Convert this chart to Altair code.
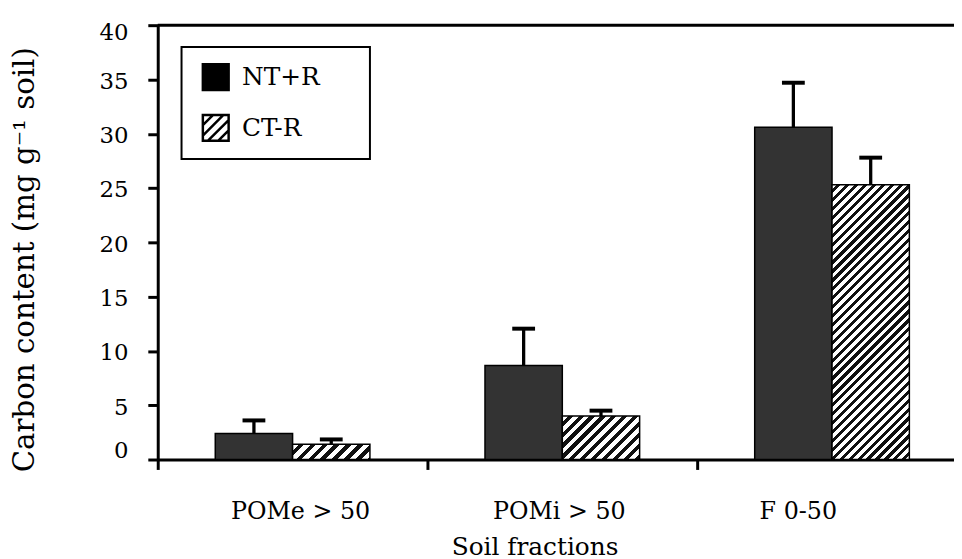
import altair as alt
import pandas as pd

# ---- data ----
categories = ["POMe > 50", "POMi > 50", "F 0-50"]
series = ["NT+R", "CT-R"]
nt_values = [2.4, 8.65, 30.6]
nt_errors = [1.2, 3.4, 4.1]
ct_values = [1.4, 4.0, 25.3]
ct_errors = [0.45, 0.5, 2.5]
y_ticks = [0, 5, 10, 15, 20, 25, 30, 35, 40]
hatch_periods = [12, 11, 9]   # stripe spacing of the hatched bars

rows = []
for i, c in enumerate(categories):
    rows.append(dict(cat=c, series="NT+R", value=nt_values[i], upper=nt_values[i] + nt_errors[i]))
    rows.append(dict(cat=c, series="CT-R", value=ct_values[i], upper=ct_values[i] + ct_errors[i]))
df = pd.DataFrame(rows)
top_df = pd.DataFrame({"top": [40]})
frame_df = pd.DataFrame({"frame": [1]})

# ---- layout / style ----
PLOT_W = 803
PLOT_H = 438
X_RANGE = 816
PO = 0.744
BAR_W = X_RANGE / len(categories) / (2 + 2 * PO)
PX = PLOT_H / 40.0
FONT = "DejaVu Serif"
INK = "#000000"
NT_FILL = "#333333"


def hatch(value, period, black=0.47):
    w = BAR_W
    h = value * PX
    L = w + h
    k = (w + h) / (w * w + h * h)
    stops = []
    i = 0
    while i * period < L:
        o0 = i * period / L
        o1 = min((i + 1 - black) * period / L, 1.0)
        o2 = min((i + 1) * period / L, 1.0)
        stops += [
            {"offset": o0, "color": "white"},
            {"offset": o1, "color": "white"},
            {"offset": o1, "color": "#111111"},
            {"offset": o2, "color": "#111111"},
        ]
        i += 1
    return {"gradient": "linear", "x1": 0, "y1": 0, "x2": k * w, "y2": k * h, "stops": stops}


x_axis = alt.Axis(
    title="Soil fractions", labelAngle=0, bandPosition=0, grid=False,
    domainColor="black", domainWidth=3, tickColor="black", tickWidth=3, tickSize=10,
    labelFont=FONT, labelFontSize=24, labelColor=INK, labelPadding=30, labelBaseline="top",
    labelOffset={"condition": [
        {"test": "datum.value === 'POMe > 50'", "value": 8},
        {"test": "datum.value === 'POMi > 50'", "value": -3}], "value": -34},
    titleFont=FONT, titleFontSize=25, titleFontWeight="normal", titleColor=INK,
    titleX=380, titleY=76, titleBaseline="top", titleAlign="center",
)
y_axis = alt.Axis(
    title="Carbon content (mg g\u207b\u00b9 soil)", values=y_ticks, grid=False,
    domainColor="black", domainWidth=3, tickColor="black", tickWidth=3, tickSize=10,
    labelFont=FONT, labelFontSize=23, labelColor=INK, labelPadding=20,
    labelOffset={"condition": [
        {"test": "datum.value === 0", "value": -9.5},
        {"test": "datum.value === 40", "value": 7.5}], "value": 2},
    titleFont=FONT, titleFontSize=29.5, titleFontWeight="normal", titleColor=INK,
    titleX=-134, titleY=236, titleAngle=270, titleAlign="center", titleBaseline="middle",
)

x_scale = alt.Scale(domain=categories, range=[0, X_RANGE], paddingInner=0, paddingOuter=0)
y_scale = alt.Scale(domain=[0, 40], nice=False)
xo_scale = alt.Scale(domain=series, paddingInner=0, paddingOuter=PO)


def X():
    return alt.X("cat:N", scale=x_scale, axis=x_axis)


def XO():
    return alt.XOffset("series:N", scale=xo_scale)


def Y(field):
    return alt.Y(f"{field}:Q", scale=y_scale, axis=y_axis)


base = alt.Chart(df)

nt_bars = base.transform_filter(alt.datum.series == "NT+R").mark_bar(
    fill=NT_FILL, stroke="black", strokeWidth=1.5, opacity=1
).encode(x=X(), xOffset=XO(), y=Y("value"))

ct_layers = []
for i, c in enumerate(categories):
    ct_layers.append(
        base.transform_filter((alt.datum.series == "CT-R") & (alt.datum.cat == c)).mark_bar(
            fill=hatch(ct_values[i], hatch_periods[i]), stroke="black", strokeWidth=1.5, opacity=1
        ).encode(x=X(), xOffset=XO(), y=Y("value"))
    )

stems = base.mark_rule(color="black", strokeWidth=3.3, opacity=1).encode(
    x=X(), xOffset=XO(), y=Y("value"), y2="upper:Q"
)
caps = base.mark_tick(orient="horizontal", size=23, thickness=4, color="black", opacity=1).encode(
    x=X(), xOffset=XO(), y=Y("upper")
)

top_line = alt.Chart(top_df).mark_rule(color="black", strokeWidth=3).encode(y=Y("top"))

# frame around the legend
legend_frame = alt.Chart(frame_df).mark_rect(
    fill="white", stroke="black", strokeWidth=2
).encode(x=alt.value(24), x2=alt.value(214), y=alt.value(22), y2=alt.value(135))

CT_PATH = ("M-1,-1H1V1H-1Z M-1,-0.2L-0.2,-1 M-1,0.6L0.6,-1 M-0.6,1L1,-0.6 M0.2,1L1,0.2")
legend = alt.Legend(
    title=None, orient="none", legendX=28, legendY=22, padding=16,
    symbolSize=676, symbolStrokeWidth=2.5, symbolOpacity=1,
    labelFont=FONT, labelFontSize=25, labelColor=INK, labelOffset=12, rowPadding=14,
)
legend_pts = base.mark_point(filled=True, opacity=0, size=10).encode(
    x=X(), xOffset=XO(), y=Y("value"),
    fill=alt.Fill("series:N", scale=alt.Scale(domain=series, range=["black", "white"]), legend=legend),
    stroke=alt.Stroke("series:N", scale=alt.Scale(domain=series, range=["black", "black"]), legend=legend),
    shape=alt.Shape("series:N", scale=alt.Scale(domain=series, range=["square", CT_PATH]), legend=legend),
)

chart = alt.layer(nt_bars, *ct_layers, stems, caps, top_line, legend_frame, legend_pts).properties(
    width=PLOT_W, height=PLOT_H,
    autosize=alt.AutoSizeParams(type="none"),
    padding={"left": 151, "top": 15, "right": 0, "bottom": 98},
    background="white",
).configure_view(stroke=None)

chart.save("out.html", embed_options={"renderer": "svg", "actions": False})
